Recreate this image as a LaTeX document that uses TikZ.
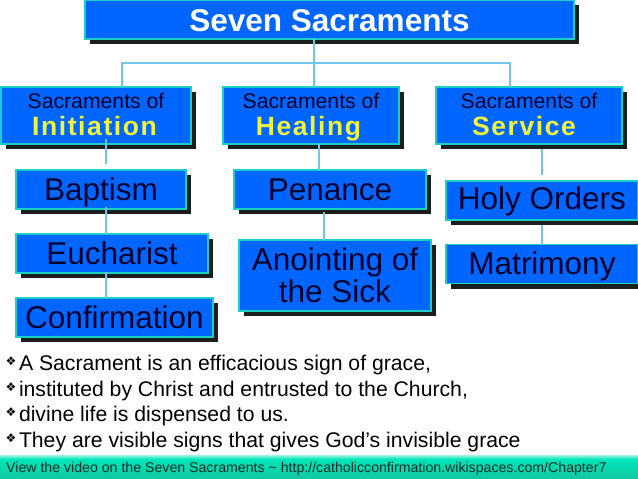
\documentclass[tikz,border=0pt]{standalone}
\usepackage{fontspec}
\setmainfont{Liberation Sans}
\newfontfamily\symfont{DejaVu Sans}
\newfontfamily\spacedbold[LetterSpace=6,BoldFont={Liberation Sans Bold}]{Liberation Sans}
\usetikzlibrary{shadows}
\definecolor{boxblue}{HTML}{0066FF}
\definecolor{boxedge}{HTML}{1CCFC4}
\definecolor{boxshadow}{HTML}{1A1F1E}
\definecolor{darktext}{HTML}{00002E}
\definecolor{yellowtext}{HTML}{EEF53C}
\definecolor{linkblue}{HTML}{72C4E8}
\definecolor{foottop}{HTML}{A0F4E4}
\definecolor{footmid}{HTML}{00E6B8}
\definecolor{footbot}{HTML}{12C8A4}
\definecolor{foottext}{HTML}{00302A}
\tikzset{
  sbox/.style={draw=boxedge,fill=boxblue,line width=1.4pt,inner sep=0pt,outer sep=0pt,
    align=center,text=darktext,font=\fontsize{31.5}{32}\selectfont,
    drop shadow={shadow xshift=5pt,shadow yshift=-5pt,opacity=1,fill=boxshadow}},
  oneline/.style={text height=25pt,text depth=4pt},
  groupline/.style={text height=40pt,text depth=1pt},
  link/.style={draw=linkblue,line width=2.2pt},
  bullet/.style={anchor=base west,inner sep=0pt,outer sep=0pt,text=black,
    font=\fontsize{21.2}{22}\selectfont},
}
\newcommand{\grp}[3]{\makebox[0pt]{\hspace*{#1}\raisebox{27pt}{\fontsize{21.2}{23}\selectfont Sacraments of}}\makebox[0pt]{\hspace*{#2}\fontsize{26.5}{28}\spacedbold\bfseries\color{yellowtext}#3}}
\newcommand{\bul}{\makebox[13.5pt][l]{\symfont\fontsize{12}{12}\selectfont\raisebox{5pt}{❖}}}
\begin{document}
\begin{tikzpicture}[x=1pt,y=-1pt]
\useasboundingbox (0,0) rectangle (638,479);
\clip (0,0) rectangle (638,479);
\node[sbox,minimum width=489,minimum height=39,text height=27pt,text depth=4pt,text=white,font=\fontsize{31.5}{33}\selectfont\bfseries] (title) at (329.5,19.5) {Seven Sacraments};
\node[sbox,groupline,minimum width=190,minimum height=57] (init) at (96,115.5) {\grp{0pt}{-3pt}{Initiation}};
\node[sbox,groupline,minimum width=176,minimum height=57] (heal) at (311,115.5) {\grp{0pt}{-5pt}{Healing}};
\node[sbox,groupline,minimum width=186,minimum height=57] (serv) at (529,115.5) {\grp{0pt}{-10pt}{Service}};
\node[sbox,oneline,minimum width=170,minimum height=39] (bapt) at (101,189.5) {Baptism};
\node[sbox,oneline,minimum width=192,minimum height=39] (euch) at (112,253.5) {Eucharist};
\node[sbox,oneline,minimum width=197,minimum height=39] (conf) at (114.5,317.5) {Confirmation};
\node[sbox,oneline,minimum width=192,minimum height=39] (pena) at (330,189.5) {Penance};
\node[sbox,minimum width=192,minimum height=71] (anoi) at (335,275.5) {Anointing of\\the Sick};
\node[sbox,text height=23pt,text depth=5pt,minimum width=192,minimum height=39] (holy) at (542,200.5) {Holy Orders};
\node[sbox,oneline,minimum width=192,minimum height=39] (matr) at (542,264) {Matrimony};
\coordinate (busy) at (0,63);
\coordinate (xa) at (106,0);
\coordinate (xb) at (319,0);
\coordinate (xc) at (324,0);
\coordinate (xd) at (542,0);
\coordinate (xl) at (122,0);
\coordinate (xm) at (314,0);
\coordinate (xr) at (510,0);
\draw[link] (title.south -| xm) -- (heal.north -| xm);
\draw[link] (init.north -| xl) -- (busy -| xl) -- (busy -| xr) -- (serv.north -| xr);
\draw[link,shorten <=-5pt,shorten >=6pt] (init.south -| xa) -- (bapt.north -| xa);
\draw[link,shorten <=-2pt] (bapt.south -| xa) -- (euch.north -| xa);
\draw[link,shorten <=-1pt] (euch.south -| xa) -- (conf.north -| xa);
\draw[link] (heal.south -| xb) -- (pena.north -| xb);
\draw[link,shorten <=3pt] (pena.south -| xc) -- (anoi.north -| xc);
\draw[link,shorten <=5pt,shorten >=6pt] (serv.south -| xd) -- (holy.north -| xd);
\draw[link,shorten <=5pt] (holy.south -| xd) -- (matr.north -| xd);
\node[bullet] (b1) at (5.5,370) {\bul A Sacrament is an efficacious sign of grace,};
\node[bullet] (b2) at (5.5,396) {\bul instituted by Christ and entrusted to the Church,};
\node[bullet] (b3) at (5.5,421) {\bul divine life is dispensed to us.};
\node[bullet] (b4) at (5.5,447) {\bul They are visible signs that gives God’s invisible grace};
\shade[top color=foottop,bottom color=footmid] (0,455) rectangle (638,459);
\shade[top color=footmid,bottom color=footbot] (0,459) rectangle (638,478);
\node[anchor=base west,inner sep=0pt,text=foottext,font=\fontsize{14.15}{16}\selectfont] (foot) at (6,472) {View the video on the Seven Sacraments \textasciitilde{} http://catholicconfirmation.wikispaces.com/Chapter7};
\end{tikzpicture}
\end{document}
